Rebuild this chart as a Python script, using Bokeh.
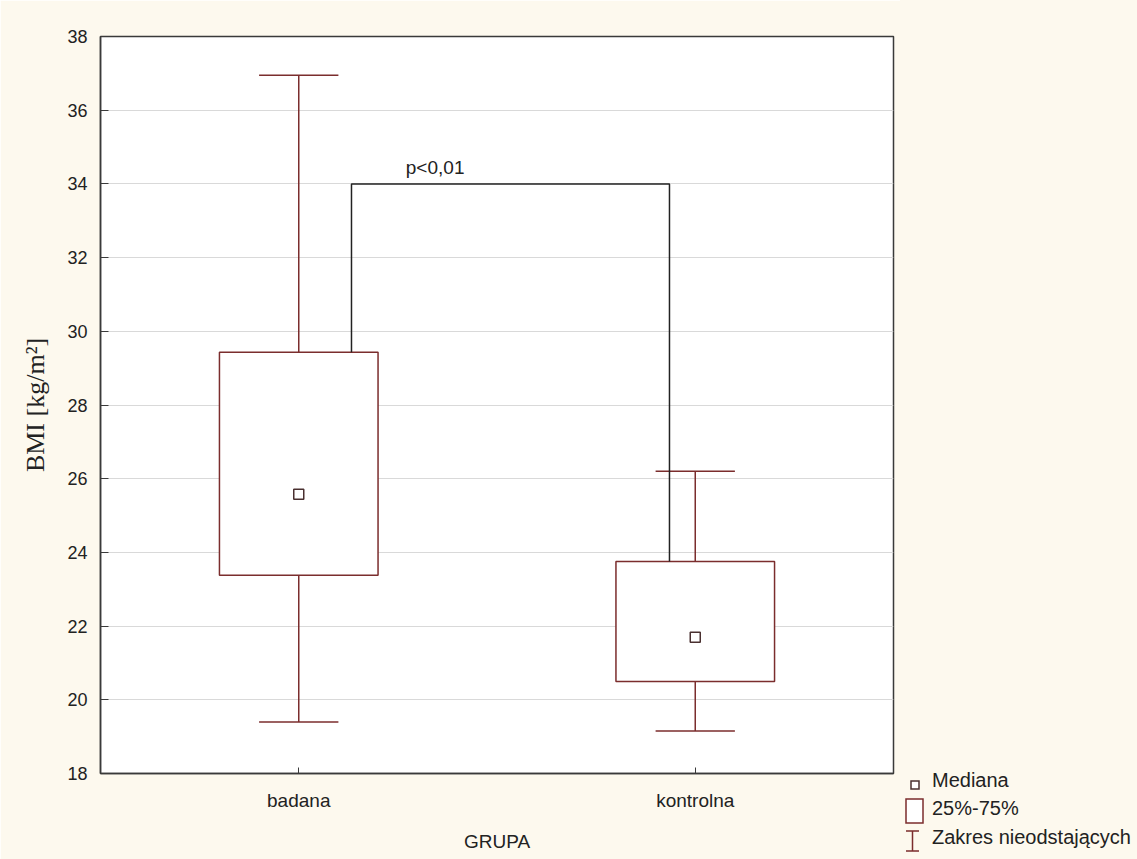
from bokeh.plotting import figure
from bokeh.layouts import row
from bokeh.models import Range1d, FixedTicker, ColumnDataSource, Div
from bokeh.core.properties import value
from bokeh.embed import file_html
from bokeh.resources import INLINE

# ---------------- data ----------------
groups = ["badana", "kontrolna"]
whisker_low = [19.4, 19.15]
q1 = [23.38, 20.5]
median = [25.58, 21.7]
q3 = [29.43, 23.75]
whisker_high = [36.95, 26.2]

y_ticks = [18, 20, 22, 24, 26, 28, 30, 32, 34, 36, 38]
p_label = "p<0,01"
bracket_level = 34.0

x_title = "GRUPA"
y_title = "BMI [kg/m\u00b2]"
legend_labels = ["Mediana", "25%-75%", "Zakres nieodstaj\u0105cych"]

# ---------------- layout / styles ----------------
W, H = 1137, 859
FL, FR, FT, FB = 100, 893, 36, 773   # frame edges in pixels
MAIN_W = 900
CREAM = "#fdf9ee"
MAROON = "#7b2d2d"
DARK = "#3a3a3a"
FONT = "Liberation Sans"

xs = [i + 0.5 for i in range(len(groups))]
box_w = 0.4
cap_w = 0.2

src = ColumnDataSource(dict(
    x=xs,
    lo=whisker_low, q1=q1, med=median, q3=q3, hi=whisker_high,
    cap_l=[x - cap_w / 2 for x in xs], cap_r=[x + cap_w / 2 for x in xs],
))

p = figure(width=MAIN_W, height=H,
           x_range=Range1d(0, len(groups)), y_range=Range1d(18, 38),
           output_backend="svg", toolbar_location=None,
           min_border_left=FL, min_border_right=MAIN_W - FR,
           min_border_top=FT, min_border_bottom=H - FB,
           background_fill_color="white", border_fill_color=CREAM)

p.outline_line_color = DARK
p.outline_line_width = 1.5

# axes
p.xaxis.ticker = FixedTicker(ticks=xs)
p.xaxis.major_label_overrides = {x: g for x, g in zip(xs, groups)}
p.yaxis.ticker = FixedTicker(ticks=y_ticks)
for ax in (p.xaxis[0], p.yaxis[0]):
    ax.axis_line_color = DARK
    ax.axis_line_width = 1.5
    ax.major_tick_line_color = DARK
    ax.major_tick_out = 0
    ax.minor_tick_line_color = None
    ax.major_label_text_font = FONT
    ax.major_label_text_color = "#222222"
p.xaxis.major_label_text_font_size = "19px"
p.yaxis.major_label_text_font_size = "18px"
p.xaxis.major_tick_in = 6
p.yaxis.major_tick_in = 8
p.xaxis.major_label_standoff = 16
p.yaxis.major_label_standoff = 13

p.xaxis.axis_label = x_title
p.xaxis.axis_label_text_font = FONT
p.xaxis.axis_label_text_font_size = "19px"
p.xaxis.axis_label_text_font_style = "normal"
p.xaxis.axis_label_text_color = "#222222"
p.xaxis.axis_label_standoff = 17

p.yaxis.axis_label = y_title
p.yaxis.axis_label_text_font = "Liberation Serif"
p.yaxis.axis_label_text_font_size = "26px"
p.yaxis.axis_label_text_font_style = "normal"
p.yaxis.axis_label_text_color = "#222222"
p.yaxis.axis_label_standoff = 14

p.xgrid.grid_line_color = None
p.ygrid.grid_line_color = "#d9d9d9"
p.ygrid.grid_line_width = 1

# whiskers
p.segment(x0="x", x1="x", y0="q3", y1="hi", source=src, line_color=MAROON, line_width=1.5)
p.segment(x0="x", x1="x", y0="lo", y1="q1", source=src, line_color=MAROON, line_width=1.5)
p.segment(x0="cap_l", x1="cap_r", y0="hi", y1="hi", source=src, line_color=MAROON, line_width=1.5)
p.segment(x0="cap_l", x1="cap_r", y0="lo", y1="lo", source=src, line_color=MAROON, line_width=1.5)

# boxes
p.vbar(x="x", width=box_w, bottom="q1", top="q3", source=src,
       fill_color="white", line_color=MAROON, line_width=1.5)

# medians
p.scatter(x="x", y="med", source=src, marker="square", size=10,
          fill_color="white", line_color="#4a3030", line_width=1.5)

# significance bracket
bx0 = xs[0] + 0.133
bx1 = xs[1] - 0.065
p.line(x=[bx0, bx0, bx1, bx1], y=[q3[0], bracket_level, bracket_level, q3[1]],
       line_color="#222222", line_width=1.5)
p.text(x=[bx0 + 0.137], y=[bracket_level + 0.44], text=[p_label],
       text_font=value(FONT), text_font_size="19px", text_color="#222222",
       text_align="left", text_baseline="middle")

# ---------------- legend (outside the frame, bottom right) ----------------
LW = W - MAIN_W
ox = -MAIN_W  # convert page x to legend-panel x
text_x = 932 + ox
baselines = [787, 815, 844]
svg = [
    f'<svg xmlns="http://www.w3.org/2000/svg" width="{LW}" height="{H}" '
    f'style="display:block;overflow:visible">',
    # median symbol
    f'<rect x="{911 + ox}" y="781" width="8" height="8" fill="white" '
    f'stroke="#4a3030" stroke-width="1.5"/>',
    # box symbol
    f'<rect x="{906 + ox}" y="799" width="17" height="24" fill="white" '
    f'stroke="{MAROON}" stroke-width="1.5"/>',
    # whisker symbol
    f'<path d="M{906 + ox} 831 H{919 + ox} M{912.5 + ox} 831 V851 '
    f'M{906 + ox} 851 H{919 + ox}" fill="none" stroke="{MAROON}" stroke-width="1.5"/>',
]
for lab, by in zip(legend_labels, baselines):
    svg.append(f'<text x="{text_x}" y="{by}" font-family="{FONT}" font-size="20px" '
               f'fill="#222222">{lab}</text>')
svg.append('</svg>')

legend_div = Div(text="".join(svg), width=LW, height=H, margin=0,
                 styles={"background-color": CREAM})

layout = row(p, legend_div, spacing=0)
html = file_html(layout, INLINE)
html = html.replace("<body>", '<body style="margin:0;background:%s">' % CREAM, 1)
open("out.html", "w").write(html)
